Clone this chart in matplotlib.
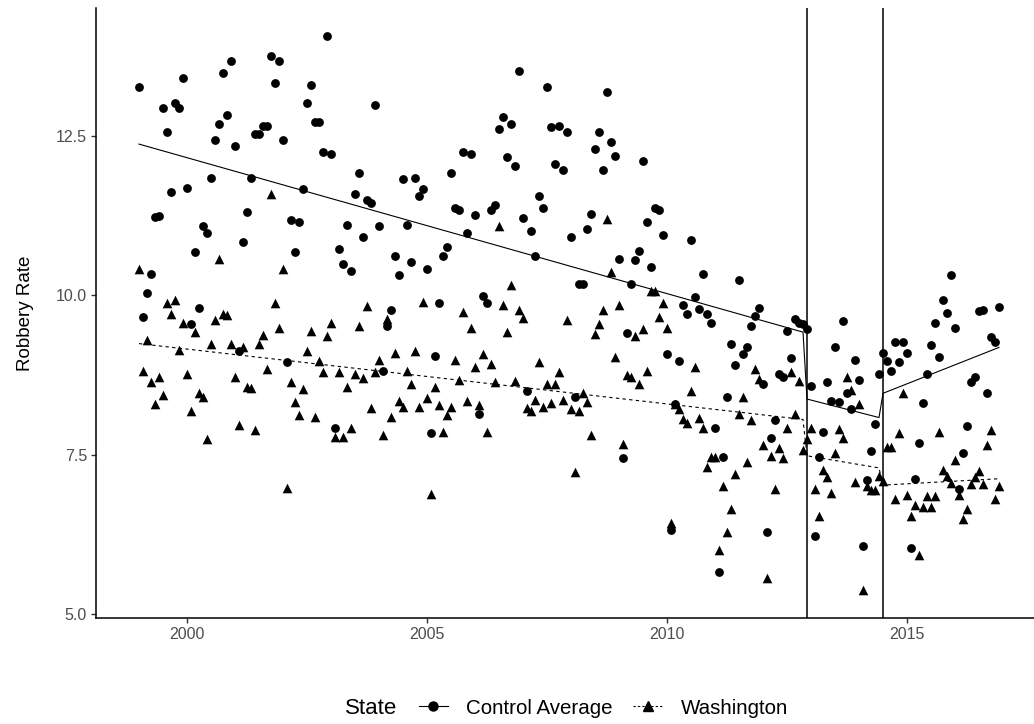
import numpy as np
import matplotlib.pyplot as plt
from matplotlib.lines import Line2D

plt.rcParams['font.family'] = ['Liberation Sans', 'DejaVu Sans']

# Robbery rate, monthly, one row per year (Jan..Dec), 1999-2016
years = np.arange(1999, 2017)

control_avg = [
    [13.27, 9.65, 10.03, 10.33, 11.23, 11.24, 12.93, 12.56, 11.62, 13.02, 12.93, 13.40],
    [11.68, 9.55, 10.68, 9.80, 11.08, 10.97, 11.84, 12.43, 12.69, 13.49, 12.82, 13.67],
    [12.34, 9.12, 10.83, 11.31, 11.84, 12.53, 12.53, 12.66, 12.66, 13.75, 13.33, 13.67],
    [12.43, 8.95, 11.18, 10.68, 11.15, 11.66, 13.01, 13.30, 12.72, 12.72, 12.24, 14.07],
    [12.21, 7.92, 10.72, 10.49, 11.10, 10.38, 11.58, 11.92, 10.91, 11.50, 11.44, 12.98],
    [11.08, 8.81, 9.51, 9.77, 10.62, 10.32, 11.82, 11.10, 10.52, 11.84, 11.55, 11.67],
    [10.41, 7.83, 9.05, 9.87, 10.62, 10.75, 11.92, 11.36, 11.33, 12.24, 10.97, 12.22],
    [11.26, 8.13, 9.99, 9.88, 11.33, 11.42, 12.61, 12.79, 12.17, 12.69, 12.03, 13.51],
    [11.21, 8.49, 11.00, 10.62, 11.55, 11.36, 13.27, 12.64, 12.05, 12.66, 11.97, 12.56],
    [10.91, 8.40, 10.18, 10.18, 11.04, 11.28, 12.29, 12.56, 11.97, 13.19, 12.40, 12.19],
    [10.56, 7.44, 9.40, 10.18, 10.55, 10.70, 12.10, 11.15, 10.44, 11.37, 11.34, 10.94],
    [9.07, 6.31, 8.30, 8.97, 9.84, 9.71, 10.87, 9.97, 9.78, 10.33, 9.71, 9.56],
    [7.92, 5.66, 7.46, 8.40, 9.24, 8.90, 10.24, 9.08, 9.19, 9.51, 9.67, 9.80],
    [8.61, 6.28, 7.76, 8.04, 8.77, 8.72, 9.43, 9.01, 9.62, 9.57, 9.55, 9.47],
    [8.58, 6.22, 7.46, 7.85, 8.63, 8.34, 9.19, 8.32, 9.59, 8.47, 8.21, 8.98],
    [8.67, 6.07, 7.10, 7.55, 7.98, 8.76, 9.09, 8.97, 8.81, 9.27, 8.95, 9.27],
    [9.09, 6.03, 7.12, 7.68, 8.31, 8.76, 9.22, 9.56, 9.03, 9.93, 9.72, 10.31],
    [9.49, 6.96, 7.52, 7.94, 8.63, 8.71, 9.75, 9.77, 8.47, 9.35, 9.27, 9.82],
]

washington = [
    [10.41, 8.81, 9.29, 8.63, 8.30, 8.72, 8.44, 9.87, 9.71, 9.92, 9.14, 9.56],
    [8.76, 8.18, 9.42, 8.46, 8.40, 7.74, 9.24, 9.61, 10.56, 9.71, 9.69, 9.24],
    [8.71, 7.97, 9.18, 8.56, 8.54, 7.88, 9.24, 9.38, 8.84, 11.58, 9.87, 9.49],
    [10.41, 6.98, 8.63, 8.32, 8.12, 8.53, 9.13, 9.44, 8.09, 8.96, 8.79, 9.36],
    [9.56, 7.78, 8.79, 7.78, 8.56, 7.92, 8.76, 9.51, 8.70, 9.83, 8.23, 8.80],
    [8.98, 7.81, 9.62, 8.09, 9.09, 8.34, 8.24, 8.81, 8.61, 9.12, 8.25, 9.89],
    [8.39, 6.88, 8.56, 8.28, 7.85, 8.12, 8.25, 8.98, 8.67, 9.74, 8.34, 9.49],
    [8.87, 8.28, 9.07, 7.86, 8.92, 8.63, 11.09, 9.85, 9.42, 10.16, 8.66, 9.76],
    [9.64, 8.23, 8.18, 8.36, 8.95, 8.25, 8.61, 8.31, 8.61, 8.79, 8.36, 9.61],
    [8.21, 7.22, 8.18, 8.47, 8.33, 7.81, 9.39, 9.54, 9.77, 11.20, 10.36, 9.03],
    [9.85, 7.67, 8.75, 8.72, 9.36, 8.61, 9.47, 8.81, 10.06, 10.06, 9.66, 9.87],
    [9.49, 6.43, 8.29, 8.21, 8.06, 7.99, 8.50, 8.87, 8.07, 7.92, 7.31, 7.46],
    [7.46, 6.00, 7.01, 6.29, 6.64, 7.19, 8.13, 8.40, 7.39, 8.04, 8.84, 8.68],
    [7.65, 5.57, 7.48, 6.96, 7.60, 7.45, 7.92, 8.79, 8.14, 8.66, 7.57, 7.74],
    [7.92, 6.96, 6.54, 7.26, 7.15, 6.90, 7.52, 7.90, 7.76, 8.71, 8.51, 7.07],
    [8.29, 5.37, 7.00, 6.94, 6.94, 7.17, 7.09, 7.61, 7.61, 6.80, 7.83, 8.47],
    [6.87, 6.54, 6.71, 5.93, 6.68, 6.85, 6.67, 6.85, 7.86, 7.26, 7.17, 7.06],
    [7.41, 6.87, 6.49, 6.64, 7.04, 7.14, 7.24, 7.04, 7.65, 7.88, 6.80, 7.01],
]

# segmented trend lines: (first month, last month) of each segment and fitted values there
seg_start = [1999.0, 2012 + 11 / 12, 2014 + 6 / 12]
seg_end = [2012 + 10 / 12, 2014 + 5 / 12, 2016 + 11 / 12]
control_fit = [(12.37, 9.42), (8.37, 8.08), (8.46, 9.18)]
washington_fit = [(9.24, 8.05), (7.48, 7.29), (7.02, 7.12)]

# policy change dates (vertical lines)
policy_dates = [2012 + 11 / 12, 2014 + 6 / 12]

# ---- build x values
t = (years[:, None] + np.arange(12)[None, :] / 12).ravel()
ctrl = np.array(control_avg).ravel()
wa = np.array(washington).ravel()
fit_x = np.ravel(list(zip(seg_start, seg_end)))
ctrl_line = np.ravel(control_fit)
wa_line = np.ravel(washington_fit)

W, H = 1034, 724
fig = plt.figure(figsize=(W / 100, H / 100), dpi=100)
# panel runs a little past the right edge, like the source image
ax = fig.add_axes([96 / W, 106 / H, 946 / W, 610 / H])

ax.scatter(t, ctrl, marker='o', s=40, color='black', linewidths=0, zorder=3)
ax.scatter(t, wa, marker='^', s=48, color='black', linewidths=0, zorder=3)
ax.plot(fit_x, ctrl_line, color='black', lw=0.8, zorder=2)
ax.plot(fit_x, wa_line, color='black', lw=0.8, dashes=(3, 3), zorder=2)
for d in policy_dates:
    ax.axvline(d, color='black', lw=1.1, zorder=1)

ax.margins(x=0.05, y=0.05)

for side in ['top', 'right']:
    ax.spines[side].set_visible(False)
for side in ['left', 'bottom']:
    ax.spines[side].set_linewidth(1.1)
    ax.spines[side].set_color('black')

ax.set_xticks([2000, 2005, 2010, 2015])
ax.set_yticks([5.0, 7.5, 10.0, 12.5])
ax.set_yticklabels(['5.0', '7.5', '10.0', '12.5'])
ax.tick_params(axis='both', length=3.5, width=1, color='#333333',
               labelcolor='#4D4D4D', labelsize=11.5, pad=3)
ax.set_ylabel('Robbery Rate', fontsize=13.5, color='black', labelpad=16)

# legend at the bottom, title on the left
handles = [
    Line2D([], [], color='black', lw=0.8, marker='o', markersize=6.5),
    Line2D([], [], color='black', lw=0.8, dashes=(2, 2), marker='^', markersize=7),
]
fig.legend(handles, ['Control Average', 'Washington'], ncol=2, frameon=False,
           loc='center left', bbox_to_anchor=(419 / W, 16 / H),
           borderpad=0, borderaxespad=0,
           fontsize=14.8, handlelength=1.4, handletextpad=0.9, columnspacing=1.0)
fig.text(345 / W, 16 / H, 'State', fontsize=16, va='center', ha='left')

fig.savefig('out.png', dpi=100)
